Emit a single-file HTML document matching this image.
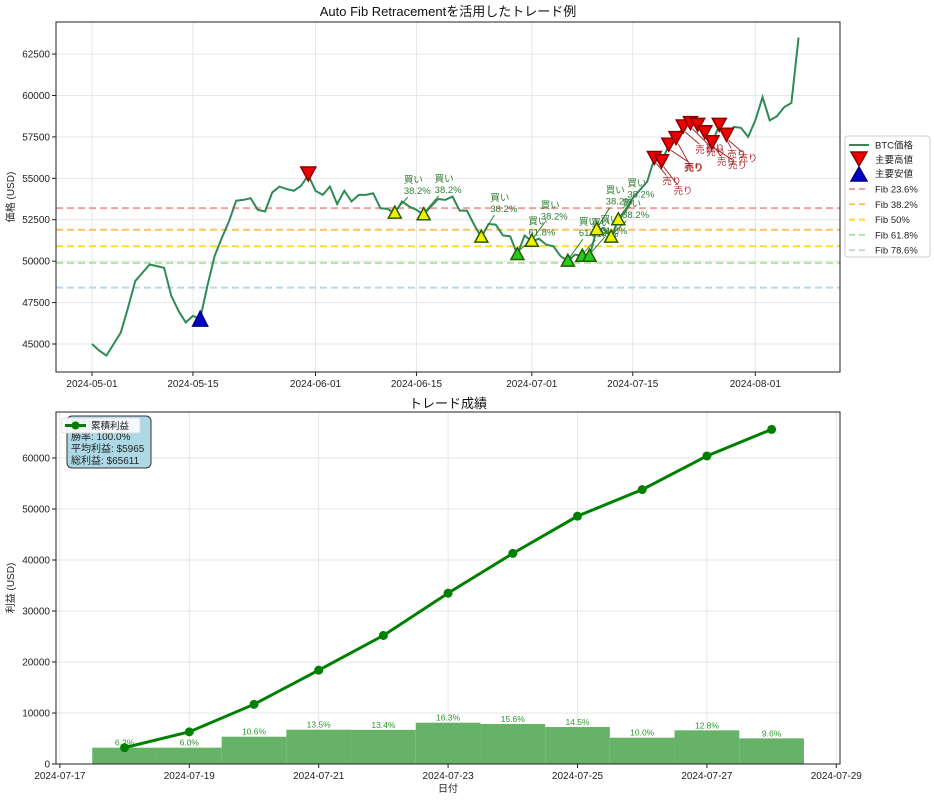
<!DOCTYPE html>
<html><head><meta charset="utf-8">
<style>
body{margin:0;background:#fff;}
svg{display:block;font-family:"Liberation Sans","Noto Sans CJK JP",sans-serif;}
</style></head>
<body>
<svg id="c" width="934" height="800"></svg>
<script>
const priceStart = Date.UTC(2024,4,1);
const prices = [45000,44600,44300,45000,45700,47200,48800,49300,49800,49700,49600,47900,47000,46300,46700,46500,48500,50300,51400,52400,53650,53700,53800,53100,53000,54150,54500,54350,54250,54550,55200,
54250,54000,54500,53450,54250,53600,54000,54000,54100,53200,53150,52900,53600,53300,53100,52800,53300,53750,53700,53900,53050,53050,52200,51450,52250,52200,51550,51500,50400,51550,
51200,51350,51000,50900,50300,50000,50400,50300,50300,51900,52000,51450,52500,53000,53800,54300,54800,56200,56000,57000,57400,58100,58300,58200,57750,57150,58200,57600,58100,58050,57500,
58500,59900,58500,58750,59300,59550,63500];
const buyDays = [42,46,54,59,61,66,68,69,70,72,73];
const buyLevels = ["38.2%","38.2%","38.2%","61.8%","38.2%","61.8%","61.8%","61.8%","38.2%","38.2%","38.2%"];
const sellDays = [78,79,80,81,82,83,84,85,86,87,88];
const highDays = [30];
const lowDays = [15];
const fibNames = ["Fib 23.6%","Fib 38.2%","Fib 50%","Fib 61.8%","Fib 78.6%"];
const fibValues = [53200,51900,50900,49900,48400];
const fibColors = ["#f4a0a0","#ffbf60","#ffd830","#a8e8a0","#b8d8e8"];
const topXTicks = ["2024-05-01","2024-05-15","2024-06-01","2024-06-15","2024-07-01","2024-07-15","2024-08-01"];
const topYTicks = [45000,47500,50000,52500,55000,57500,60000,62500];

const tradeDates = ["07-18","07-19","07-20","07-21","07-22","07-23","07-24","07-25","07-26","07-27","07-28"];
const tradeProfits = [3200,3200,5350,6730,6700,8100,7840,7250,5160,6600,5030];
const tradePct = ["6.2%","6.0%","10.6%","13.5%","13.4%","16.3%","15.6%","14.5%","10.0%","12.8%","9.6%"];
const cumProfit = [3200,6300,11700,18400,25200,33500,41300,48600,53800,60400,65611];
const botXTicks = ["2024-07-17","2024-07-19","2024-07-21","2024-07-23","2024-07-25","2024-07-27","2024-07-29"];
const botYTicks = [0,10000,20000,30000,40000,50000,60000];

const NS="http://www.w3.org/2000/svg";
const svg=document.getElementById('c');
function mk(tag,attrs,parent){const e=document.createElementNS(NS,tag);for(const k in attrs)e.setAttribute(k,attrs[k]);(parent||svg).appendChild(e);return e;}
function txt(s,attrs,parent){const e=mk('text',attrs,parent);e.textContent=s;return e;}

// ---- top axes ----
const T={l:56,r:840,t:22,b:372};
const dayMs=86400000;
function tx(d){return 92+d*7.21;}
function ty(v){return 344-(v-45000)*0.016567;}
function dayOf(s){return (Date.parse(s+"T00:00:00Z")-priceStart)/dayMs;}

const gTop=mk('g',{});


topXTicks.forEach(s=>{const x=tx(dayOf(s));mk('line',{x1:x,x2:x,y1:T.t,y2:T.b,stroke:'#e6e6e6','stroke-width':1},gTop);});
topYTicks.forEach(v=>{const y=ty(v);mk('line',{x1:T.l,x2:T.r,y1:y,y2:y,stroke:'#e6e6e6','stroke-width':1},gTop);});
fibValues.forEach((v,i)=>{const l=mk('line',{x1:T.l,x2:T.r,y1:ty(v),y2:ty(v),stroke:fibColors[i],'stroke-width':2,'stroke-dasharray':'7,4'},gTop);

});
const pl=mk('polyline',{points:prices.map((p,i)=>tx(i)+','+ty(p)).join(' '),fill:'none',stroke:'#2e8b57','stroke-width':2},gTop);


// buy markers
buyDays.forEach((d,i)=>{
 const x=tx(d),y=ty(prices[d]);
 const lx=x+9+(i%2)*2,ly=y-30-(i%3)*3;
 mk('line',{x1:lx+4,y1:ly+14,x2:x+2,y2:y-4,stroke:'#2e7d32','stroke-width':1},gTop);
 const c=buyLevels[i]==="61.8%"?'#22cc22':'#f0f000';
 const m=mk('polygon',{points:`${x},${y-7} ${x-6.5},${y+5} ${x+6.5},${y+5}`,fill:c,stroke:'#2a5a00','stroke-width':1.5},gTop);
 
 
 const t=txt('買い',{x:lx,y:ly,'font-size':9.5,fill:'#2e7d32'},gTop);
 
 
 txt(buyLevels[i],{x:lx,y:ly+11,'font-size':9.5,fill:'#2e7d32'},gTop);
});
// sell markers
sellDays.forEach((d,i)=>{
 const x=tx(d),y=ty(prices[d]);
 const lx=x+8+(i%3)*4,ly=y+26+(i%2)*6;
 mk('line',{x1:x+2,y1:y+5,x2:lx+4,y2:ly-9,stroke:'#a52a2a','stroke-width':1},gTop);
 const m=mk('polygon',{points:`${x-7},${y-7} ${x+7},${y-7} ${x},${y+6}`,fill:'#ee0000',stroke:'#8b0000','stroke-width':1.5},gTop);
 
 
 const t=txt('売り',{x:lx,y:ly,'font-size':9.5,fill:'#a52a2a'},gTop);
 
 
});
highDays.forEach(d=>{const x=tx(d),y=ty(prices[d]);
 const m=mk('polygon',{points:`${x-7.5},${y-8} ${x+7.5},${y-8} ${x},${y+6}`,fill:'#ee0000',stroke:'#8b0000','stroke-width':1.5},gTop);
 
 });
lowDays.forEach(d=>{const x=tx(d),y=ty(prices[d]);
 const m=mk('polygon',{points:`${x},${y-8} ${x-7.5},${y+7} ${x+7.5},${y+7}`,fill:'#0000cc',stroke:'#000080','stroke-width':1.5},gTop);
 
 });
mk('rect',{x:T.l,y:T.t,width:T.r-T.l,height:T.b-T.t,fill:'none',stroke:'#222','stroke-width':1},gTop);
topXTicks.forEach(s=>{const x=tx(dayOf(s));mk('line',{x1:x,x2:x,y1:T.b,y2:T.b+4,stroke:'#222'},gTop);
 const t=txt(s,{x:x,y:T.b+15,'font-size':10,'text-anchor':'middle',fill:'#222'},gTop);
 
 });
topYTicks.forEach(v=>{const y=ty(v);mk('line',{x1:T.l-4,x2:T.l,y1:y,y2:y,stroke:'#222'},gTop);
 const t=txt(String(v),{x:T.l-6,y:y+3.5,'font-size':10,'text-anchor':'end',fill:'#222'},gTop);
 
 });
const t1=txt('Auto Fib Retracementを活用したトレード例',{x:448,y:16,'font-size':13,'text-anchor':'middle',fill:'#111'});


const yl1=txt('価格 (USD)',{x:0,y:0,'font-size':10,'text-anchor':'middle',fill:'#222',transform:'translate(14,197) rotate(-90)'});



// top legend
const lg=mk('g',{});


mk('rect',{x:845,y:136,width:85,height:121,rx:3,fill:'#fff',stroke:'#ccc'},lg);
let ly0=145;
mk('line',{x1:849,x2:869,y1:ly0,y2:ly0,stroke:'#2e8b57','stroke-width':2},lg);
txt('BTC価格',{x:875,y:ly0+3.5,'font-size':9.5,fill:'#222'},lg);
mk('polygon',{points:`851,152 867,152 859,166`,fill:'#ee0000',stroke:'#8b0000','stroke-width':1.5},lg);
txt('主要高値',{x:875,y:163,'font-size':9.5,fill:'#222'},lg);
mk('polygon',{points:`859,167 851,181 867,181`,fill:'#0000cc',stroke:'#000080','stroke-width':1.5},lg);
txt('主要安値',{x:875,y:177,'font-size':9.5,fill:'#222'},lg);
fibNames.forEach((n,i)=>{const y=189+i*15.3;
 mk('line',{x1:849,x2:869,y1:y,y2:y,stroke:fibColors[i],'stroke-width':2,'stroke-dasharray':'6,4'},lg);
 const t=txt(n,{x:875,y:y+3.5,'font-size':9.5,fill:'#222'},lg);
 
 });

// ---- bottom axes ----
const B={l:56,r:840,t:412,b:764};
function bx(d){return 124.6+d*64.7;}
function by(v){return 764-v*0.0051;}
function bday(s){return (Date.parse(s+"T00:00:00Z")-Date.UTC(2024,6,18))/dayMs;}
const gB=mk('g',{});


botXTicks.forEach(s=>{const x=bx(bday(s));mk('line',{x1:x,x2:x,y1:B.t,y2:B.b,stroke:'#e6e6e6'},gB);});
botYTicks.forEach(v=>{const y=by(v);mk('line',{x1:B.l,x2:B.r,y1:y,y2:y,stroke:'#e6e6e6'},gB);});
tradeProfits.forEach((v,i)=>{const d=bday("2024-"+tradeDates[i]);
 const b=mk('rect',{x:bx(d)-32.35,y:by(v),width:64.7,height:by(0)-by(v),fill:'#66b266'},gB);
 
 
 const t=txt(tradePct[i],{x:bx(d),y:by(v)-2,'font-size':8.5,'text-anchor':'middle',fill:'#2a9a2a'},gB);
 
 });
const cl=mk('polyline',{points:cumProfit.map((v,i)=>bx(bday("2024-"+tradeDates[i]))+','+by(v)).join(' '),fill:'none',stroke:'#008000','stroke-width':3},gB);


cumProfit.forEach((v,i)=>{const p=mk('circle',{cx:bx(bday("2024-"+tradeDates[i])),cy:by(v),r:4.5,fill:'#008000'},gB);
 
 });
mk('rect',{x:B.l,y:B.t,width:B.r-B.l,height:B.b-B.t,fill:'none',stroke:'#222'},gB);
botXTicks.forEach(s=>{const x=bx(bday(s));mk('line',{x1:x,x2:x,y1:B.b,y2:B.b+4,stroke:'#222'},gB);
 const t=txt(s,{x:x,y:B.b+15,'font-size':10,'text-anchor':'middle',fill:'#222'},gB);
 
 });
botYTicks.forEach(v=>{const y=by(v);mk('line',{x1:B.l-4,x2:B.l,y1:y,y2:y,stroke:'#222'},gB);
 const t=txt(String(v),{x:B.l-6,y:y+3.5,'font-size':10,'text-anchor':'end',fill:'#222'},gB);
 
 });
const t2=txt('トレード成績',{x:448,y:408,'font-size':13,'text-anchor':'middle',fill:'#111'});


const yl2=txt('利益 (USD)',{x:0,y:0,'font-size':10,'text-anchor':'middle',fill:'#222',transform:'translate(14,588) rotate(-90)'});


const xl2=txt('日付',{x:448,y:792,'font-size':10,'text-anchor':'middle',fill:'#222'});



// stats box
const sb=mk('g',{});


mk('rect',{x:67,y:416,width:84,height:52,rx:5,fill:'#add8e6',stroke:'#333','stroke-width':1},sb);
txt('取引数: 11',{x:71,y:428,'font-size':10,fill:'#222'},sb);
txt('勝率: 100.0%',{x:71,y:440,'font-size':10,fill:'#222'},sb);
txt('平均利益: $5965',{x:71,y:452,'font-size':10,fill:'#222'},sb);
txt('総利益: $65611',{x:71,y:464,'font-size':10,fill:'#222'},sb);
// bottom legend
const bl=mk('g',{});


mk('rect',{x:62,y:418,width:78,height:15,rx:2,fill:'#fff','fill-opacity':0.85,stroke:'#ddd'},bl);
mk('line',{x1:65,x2:86,y1:425.5,y2:425.5,stroke:'#008000','stroke-width':3},bl);
mk('circle',{cx:75.5,cy:425.5,r:4,fill:'#008000'},bl);
txt('累積利益',{x:91,y:429,'font-size':9.5,fill:'#222'},bl);
</script>
</body></html>
